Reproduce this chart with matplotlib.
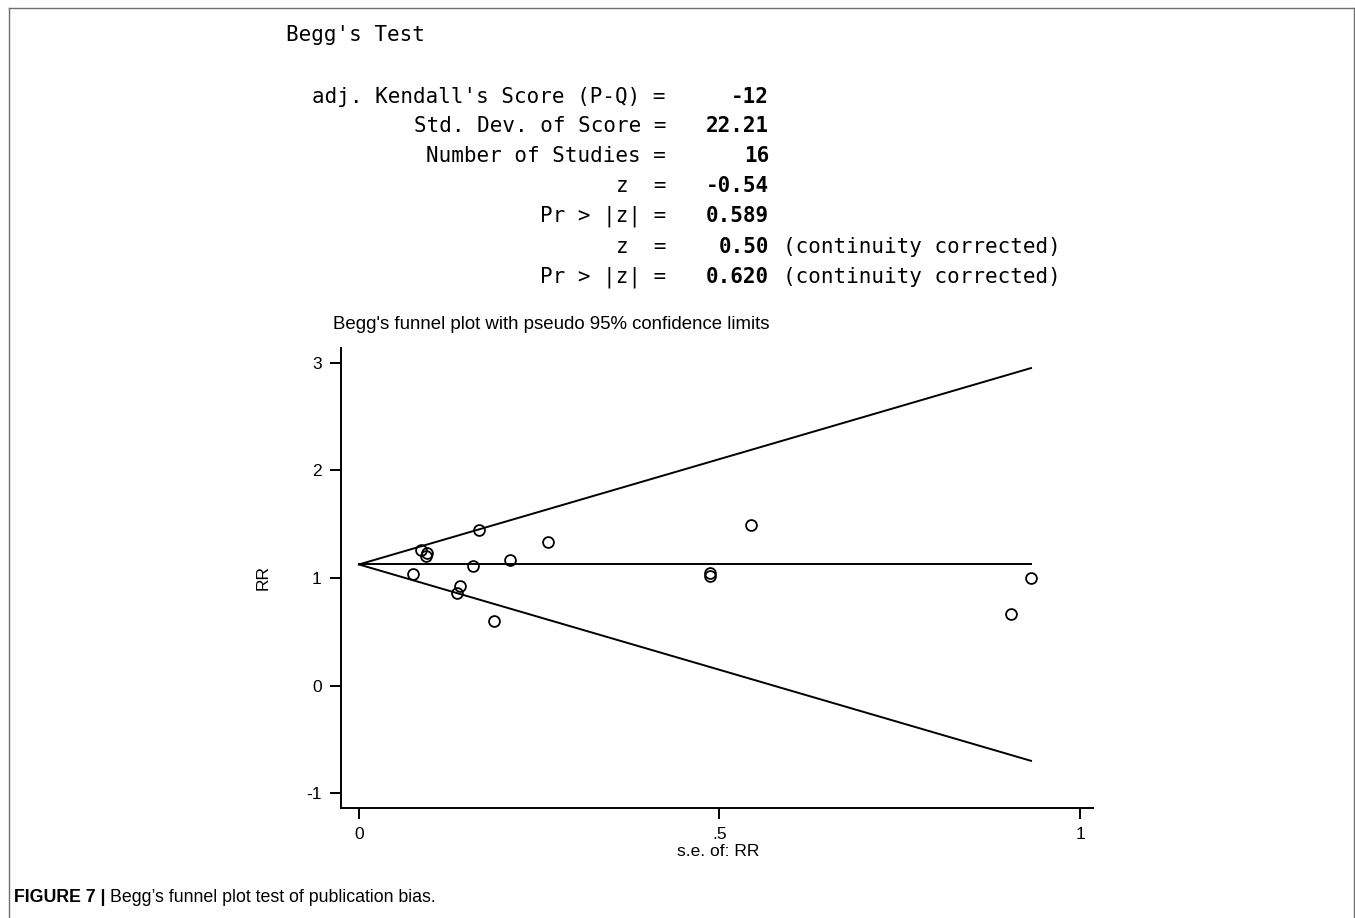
import matplotlib
matplotlib.use("Agg")
import matplotlib.pyplot as plt
from matplotlib.lines import Line2D
import numpy as np

# ---- data ----
se = [0.086, 0.093, 0.094, 0.167, 0.262, 0.210, 0.158, 0.075,
      0.140, 0.136, 0.187, 0.544, 0.487, 0.487, 0.932, 0.904]
rr = [1.265, 1.209, 1.228, 1.451, 1.335, 1.172, 1.107, 1.033,
      0.921, 0.856, 0.602, 1.491, 1.042, 1.014, 1.000, 0.667]
pooled = 1.126
se_max = 0.932
xticks = [0, 0.5, 1]
xticklabels = ["0", ".5", "1"]
yticks = [-1, 0, 1, 2, 3]
yticklabels = ["-1", "0", "1", "2", "3"]

stat_labels = ["adj. Kendall's Score (P-Q) =", "Std. Dev. of Score =",
               "Number of Studies =", "z  =", "Pr > |z| =", "z  =", "Pr > |z| ="]
stat_values = ["-12", "22.21", "16", "-0.54", "0.589", "0.50", "0.620"]
stat_suffix = ["", "", "", "", "", "(continuity corrected)", "(continuity corrected)"]

W, H = 1355, 918
fig = plt.figure(figsize=(W / 100, H / 100), dpi=100)
fig.patch.set_facecolor("white")

def fx(px):
    return px / W

def fy(py):
    return 1 - py / H

# frame (left, top, right)
for xs, ys in [([9, 9], [918, 8]), ([9, 1354], [8, 8]), ([1354, 1354], [8, 918])]:
    fig.add_artist(Line2D([fx(v) for v in xs], [fy(v) for v in ys],
                          color="#707070", lw=1.0, transform=fig.transFigure))

# ---- text block ----
mono = "DejaVu Sans Mono"
fs_mono = 15
fig.text(fx(286), fy(35), "Begg's Test", family=mono, fontsize=fs_mono,
         ha="left", va="center")
line_y = [97, 126, 156, 186, 216, 247, 277]
for lab, val, suf, yy in zip(stat_labels, stat_values, stat_suffix, line_y):
    fig.text(fx(666), fy(yy), lab, family=mono, fontsize=fs_mono, ha="right", va="center")
    fig.text(fx(769), fy(yy), val, family=mono, fontsize=fs_mono, ha="right",
             va="center", weight="bold")
    if suf:
        fig.text(fx(783), fy(yy), suf, family=mono, fontsize=fs_mono,
                 ha="left", va="center")

# ---- funnel plot ----
ax = fig.add_axes([fx(341), fy(808), (1093 - 341) / W, (808 - 348) / H])
ax.set_xlim(-0.0249, 1.018)
ax.set_ylim(-1.1395, 3.1395)

s = np.array([0, se_max])
ax.plot(s, pooled + 1.96 * s, color="black", lw=1.4)
ax.plot(s, pooled - 1.96 * s, color="black", lw=1.4)
ax.plot(s, [pooled, pooled], color="black", lw=1.4)
ax.plot(se, rr, linestyle="none", marker="o", markersize=7.8,
        markerfacecolor="none", markeredgecolor="black", markeredgewidth=1.3)

for sp in ["top", "right"]:
    ax.spines[sp].set_visible(False)
for sp in ["left", "bottom"]:
    ax.spines[sp].set_linewidth(1.4)

sans = "Liberation Sans"
ax.set_xticks(xticks)
ax.set_xticklabels(xticklabels, family=sans, fontsize=12.5)
ax.set_yticks(yticks)
ax.set_yticklabels(yticklabels, family=sans, fontsize=12.5)
ax.tick_params(direction="out", length=8, width=1.4, pad=6)

fig.text(fx(333), fy(325), "Begg's funnel plot with pseudo 95% confidence limits",
         family=sans, fontsize=13.4, ha="left", va="center")
fig.text(fx(263), fy(578), "RR", family=sans, fontsize=12.5, rotation=90,
         ha="center", va="center")
fig.text(fx(718), fy(852), "s.e. of: RR", family=sans, fontsize=12.5,
         ha="center", va="center")

# ---- caption ----
fig.canvas.draw()
r = fig.canvas.get_renderer()
t1 = fig.text(fx(14), fy(898), "FIGURE 7 |", family=sans, fontsize=12.8,
              weight="bold", ha="left", va="center")
bb = t1.get_window_extent(renderer=r)
fig.text(bb.x1 / W + 4 / W, fy(898), "Begg\u2019s funnel plot test of publication bias.",
         family=sans, fontsize=12.8, ha="left", va="center")

fig.savefig("out.png", dpi=100)
